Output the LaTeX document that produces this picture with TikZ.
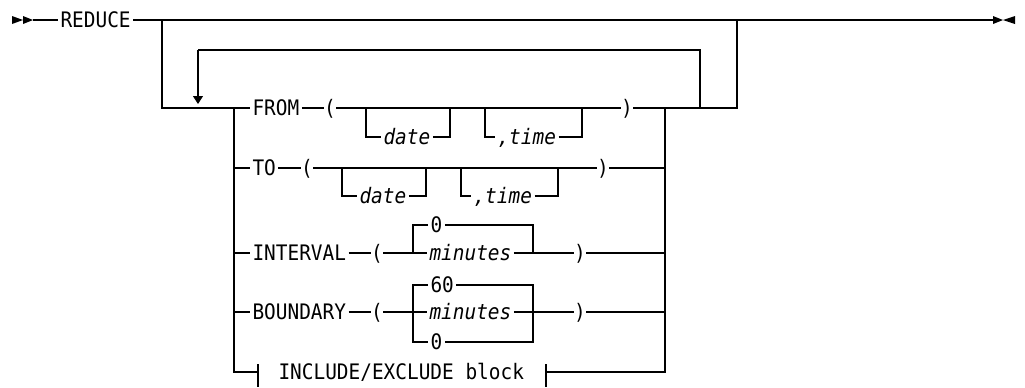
\documentclass[tikz,border=0pt]{standalone}
\usepackage{fontspec}
\setmonofont[FakeStretch=0.91]{DejaVu Sans Mono}
\usetikzlibrary{arrows.meta}

\tikzset{
  kw/.style={inner xsep=1.5pt, inner ysep=0pt, text height=11.6pt, text depth=0pt, anchor=west, font=\ttfamily\fontsize{16}{18}\selectfont},
  var/.style={kw, font=\ttfamily\itshape\fontsize{16}{18}\selectfont},
  par/.style={kw, inner xsep=0pt, anchor=center},
  loopend/.style={-{Triangle[length=6pt,width=7.5pt]}},
}

\begin{document}
\begin{tikzpicture}[x=0.75pt,y=-0.75pt,line width=0.8pt]
\useasboundingbox (0,0) rectangle (1025,387);
\fill (12,16) -- (23,20) -- (12,24) -- cycle;
\fill (23,16) -- (33,20) -- (23,24) -- cycle;
\fill (993,16) -- (1003,20) -- (993,24) -- cycle;
\fill (1015,16) -- (1003,20) -- (1015,24) -- cycle;
\coordinate (start) at (33,20);
\coordinate (stop) at (993,20);
\coordinate (split) at (162,20);
\coordinate (join) at (737,20);
\coordinate (cl) at (234,108);
\coordinate (cr) at (665,108);
\coordinate (back) at (700,108);
\coordinate (loop) at (198,50);
\coordinate (tip) at (198,104);
\node[kw] (reduce) at (58,20) {REDUCE};
\draw (start) -- (reduce.west);
\draw (reduce.east) -- (stop);
\draw (split) |- (cl);
\draw (back) |- (loop);
\draw[loopend] (loop) -- (tip);
\draw (cr) -| (join);

\node[kw] (from) at (250,108) {FROM};
\node[par] (lpA) at (330,108) {(};
\node[par] (rpA) at (627,108) {)};
\coordinate (dA1) at (366,108);
\coordinate (dA2) at (450,108);
\coordinate (tA1) at (485,108);
\coordinate (tA2) at (582,108);
\node[var] (dateA) at (381,137) {date};
\node[var] (timeA) at (495,137) {,time};
\draw (cl) -- (from.west);
\draw (from.east) -- (lpA.west);
\draw (lpA.east) -- (rpA.west);
\draw (rpA.east) -- (cr);
\draw (dA1) |- (dateA.west);
\draw (dateA.east) -| (dA2);
\draw (tA1) |- (timeA.west);
\draw (timeA.east) -| (tA2);

\node[kw] (to) at (250,168) {TO};
\node[par] (lpB) at (307,168) {(};
\node[par] (rpB) at (603,168) {)};
\coordinate (dB1) at (342,168);
\coordinate (dB2) at (426,168);
\coordinate (tB1) at (461,168);
\coordinate (tB2) at (558,168);
\node[var] (dateB) at (357,196) {date};
\node[var] (timeB) at (471,196) {,time};
\draw (cl) |- (to.west);
\draw (to.east) -- (lpB.west);
\draw (lpB.east) -- (rpB.west);
\draw (rpB.east) -| (cr);
\draw (dB1) |- (dateB.west);
\draw (dateB.east) -| (dB2);
\draw (tB1) |- (timeB.west);
\draw (timeB.east) -| (tB2);

\node[kw] (interval) at (250,253) {INTERVAL};
\node[par] (lpC) at (377,253) {(};
\node[par] (rpC) at (580,253) {)};
\coordinate (iL) at (413,253);
\coordinate (iR) at (533,253);
\node[kw] (zeroC) at (428,225) {0};
\node[var] (minC) at (427,253) {minutes};
\draw (cl) |- (interval.west);
\draw (interval.east) -- (lpC.west);
\draw (lpC.east) -- (minC.west);
\draw (minC.east) -- (rpC.west);
\draw (rpC.east) -| (cr);
\draw (zeroC.west) -| (iL);
\draw (zeroC.east) -| (iR);

\node[kw] (boundary) at (250,312) {BOUNDARY};
\node[par] (lpD) at (377,312) {(};
\node[par] (rpD) at (580,312) {)};
\coordinate (bL) at (413,312);
\coordinate (bR) at (533,312);
\node[kw] (sixty) at (428,285) {60};
\node[var] (minD) at (427,312) {minutes};
\node[kw] (zeroD) at (428,342) {0};
\draw (cl) |- (boundary.west);
\draw (boundary.east) -- (lpD.west);
\draw (lpD.east) -- (minD.west);
\draw (minD.east) -- (rpD.west);
\draw (rpD.east) -| (cr);
\draw (sixty.west) -| (bL) |- (zeroD.west);
\draw (sixty.east) -| (bR) |- (zeroD.east);

\coordinate (kL) at (258,372);
\coordinate (kR) at (546,372);
\node[kw] (incl) at (276,372) {INCLUDE/EXCLUDE block};
\draw (cl) |- (kL);
\draw (kR) -| (cr);
\draw (kL) ++(0,-8) -- ++(0,23);
\draw (kR) ++(0,-8) -- ++(0,23);
\end{tikzpicture}
\end{document}
